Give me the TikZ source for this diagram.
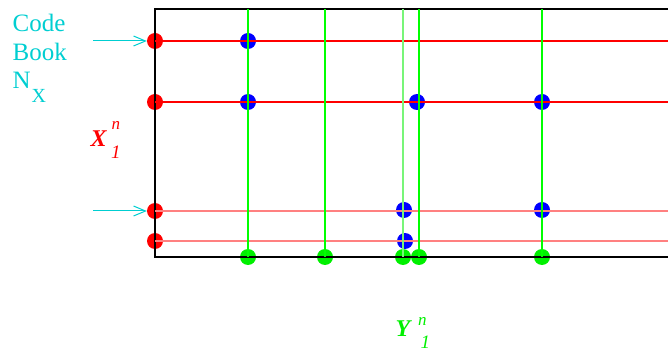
\documentclass[tikz,border=0pt]{standalone}
\usepackage{fontspec}
\setmainfont{Liberation Serif}
\usetikzlibrary{arrows.meta}
\definecolor{cbcyan}{RGB}{0,206,209}
\definecolor{dotred}{RGB}{255,0,0}
\definecolor{linepink}{RGB}{255,128,128}
\definecolor{dotgreen}{RGB}{0,240,0}
\definecolor{linegreen}{RGB}{0,255,0}
\definecolor{lightgreen}{RGB}{120,245,120}
\definecolor{dotblue}{RGB}{0,0,255}
\begin{document}
\begin{tikzpicture}[x=1pt,y=-1pt,
  dot/.style={circle,minimum size=16pt,inner sep=0pt},
  reddot/.style={dot,fill=dotred},
  bluedot/.style={dot,fill=dotblue},
  greendot/.style={dot,fill=dotgreen},
  hline/.style={dotred,line width=1.3pt},
  hlinelight/.style={linepink,line width=1.6pt},
  vline/.style={linegreen,line width=1.3pt},
  vlinelight/.style={lightgreen,line width=1.8pt},
  frame/.style={black,line width=1.3pt},
  feed/.style={cbcyan,line width=1pt,-{Straight Barb[length=12pt,width=10pt,line width=1pt]}},
  lab/.style={inner sep=0pt,anchor=base west},
  cbtext/.style={lab,text=cbcyan,font=\fontsize{25}{25}\selectfont}
]
\useasboundingbox (0,0) rectangle (668,352);
% dots (drawn first, lines go over them)
\node[reddot] (r1) at (155,41) {};
\node[reddot] (r2) at (155,102) {};
\node[reddot] (r3) at (155,211) {};
\node[reddot] (r4) at (155,241) {};
\node[greendot] (g1) at (248,257) {};
\node[greendot] (g2) at (325,257) {};
\node[greendot] (g3) at (403,257) {};
\node[greendot] (g4) at (419,257) {};
\node[greendot] (g5) at (542,257) {};
\node[bluedot] (b1) at (248,41) {};
\node[bluedot] (b2) at (248,102) {};
\node[bluedot] (b3) at (417,102) {};
\node[bluedot] (b4) at (542,102) {};
\node[bluedot] (b5) at (404,210) {};
\node[bluedot] (b6) at (542,210) {};
\node[bluedot] (b7) at (405,241) {};
% end coordinates
\coordinate (e1) at (668,41);
\coordinate (e2) at (668,102);
\coordinate (e3) at (668,211);
\coordinate (e4) at (668,241);
\coordinate (t1) at (248,9);
\coordinate (t2) at (325,9);
\coordinate (t3) at (403,9);
\coordinate (t4) at (419,9);
\coordinate (t5) at (542,9);
\coordinate (ftl) at (155,9);
\coordinate (ftr) at (668,9);
\coordinate (fbl) at (155,257);
\coordinate (fbr) at (668,257);
\coordinate (a1) at (93,41);
\coordinate (a3) at (93,211);
% frame
\draw[frame] (ftr) -- (ftl) -- (fbl) -- (fbr);
% horizontal red lines
\draw[hline] (r1.center) -- (e1);
\draw[hline] (r2.center) -- (e2);
\draw[hlinelight] (r3.center) -- (e3);
\draw[hlinelight] (r4.center) -- (e4);
% vertical green lines
\draw[vline] (g1.center) -- (t1);
\draw[vline] (g2.center) -- (t2);
\draw[vlinelight] (g3.center) -- (t3);
\draw[vline] (g4.center) -- (t4);
\draw[vline] (g5.center) -- (t5);
% cyan arrows
\draw[feed] (a1) -- (r1.west);
\draw[feed] (a3) -- (r3.west);
% labels
\node[cbtext] (code) at (12.5,31.5) {Code};
\node[cbtext] (book) at (12.5,60.5) {Book};
\node[cbtext] (nn) at (12.5,88.3) {N};
\node[lab,text=cbcyan,font=\fontsize{20}{20}\selectfont] (nx) at (31.5,102.7) {X};
\node[lab,text=dotred,font=\fontsize{24}{24}\selectfont\bfseries\itshape] (xl) at (90.5,146.7) {X};
\node[lab,text=dotred,font=\fontsize{17}{17}\selectfont\itshape] (xn) at (111.5,130) {n};
\node[lab,text=dotred,font=\fontsize{19}{19}\selectfont\itshape] (x1) at (111,158.5) {1};
\node[lab,text=dotgreen,font=\fontsize{24}{24}\selectfont\bfseries\itshape] (yl) at (395.5,336) {Y};
\node[lab,text=dotgreen,font=\fontsize{17}{17}\selectfont\itshape] (yn) at (418,325) {n};
\node[lab,text=dotgreen,font=\fontsize{19}{19}\selectfont\itshape] (y1) at (420.5,348.5) {1};
\end{tikzpicture}
\end{document}
